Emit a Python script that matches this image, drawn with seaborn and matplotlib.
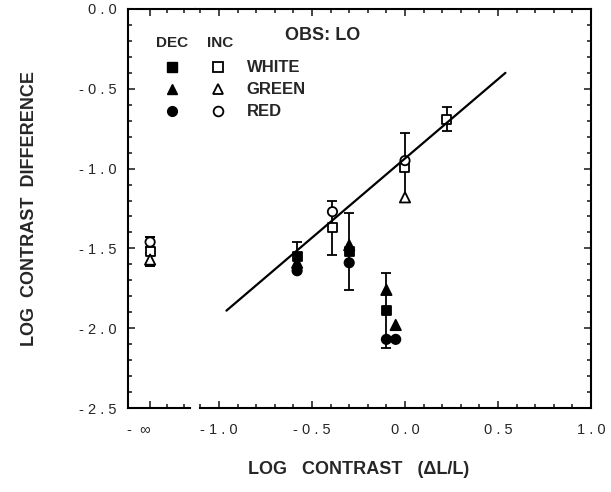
import matplotlib
matplotlib.use("Agg")
import pandas as pd
import matplotlib.pyplot as plt
import seaborn as sns
from matplotlib.lines import Line2D
from matplotlib.ticker import FixedLocator, MultipleLocator

# values
colors = ["WHITE", "GREEN", "RED"]

# contrast = -infinity (increments only)
inf_color = ["WHITE", "GREEN", "RED"]
inf_y = [-1.52, -1.57, -1.46]
inf_err = [0.09, 0.04, 0.03]

# decrements (filled symbols)
dec_color = ["WHITE", "GREEN", "RED", "WHITE", "GREEN", "RED",
             "WHITE", "GREEN", "RED", "GREEN", "RED"]
dec_x = [-0.58, -0.58, -0.58, -0.30, -0.30, -0.30,
         -0.10, -0.10, -0.10, -0.05, -0.05]
dec_y = [-1.55, -1.59, -1.64, -1.52, -1.48, -1.59,
         -1.89, -1.76, -2.07, -1.98, -2.07]
dec_err = [0.09, 0, 0, 0.24, 0, 0, 0.235, 0, 0, 0, 0]

# increments (open symbols)
inc_color = ["WHITE", "RED", "WHITE", "GREEN", "RED", "WHITE"]
inc_x = [-0.39, -0.39, 0.0, 0.0, 0.0, 0.225]
inc_y = [-1.37, -1.27, -0.99, -1.18, -0.95, -0.69]
inc_err = [0.17, 0, 0.21, 0, 0, 0.075]

# fitted line
fit_x = [-0.96, 0.54]
fit_y = [-1.89, -0.40]

x_ticks = [-1.0, -0.5, 0.0, 0.5, 1.0]
x_tick_labels = ["- 1 . 0", "- 0 . 5", "0 . 0", "0 . 5", "1 . 0"]
y_ticks = [0.0, -0.5, -1.0, -1.5, -2.0, -2.5]
y_tick_labels = ["0 . 0", "- 0 . 5", "- 1 . 0", "- 1 . 5", "- 2 . 0", "- 2 . 5"]

markers = {"WHITE": "s", "GREEN": "^", "RED": "o"}
sizes = {"WHITE": 42, "GREEN": 55, "RED": 45}

sns.set_style("ticks")
plt.rcParams["font.family"] = ["Liberation Sans", "DejaVu Sans"]

inf_df = pd.DataFrame({"x": ["-inf"] * len(inf_y), "y": inf_y, "err": inf_err, "color": inf_color})
dec_df = pd.DataFrame({"x": dec_x, "y": dec_y, "err": dec_err, "color": dec_color})
inc_df = pd.DataFrame({"x": inc_x, "y": inc_y, "err": inc_err, "color": inc_color})

fig = plt.figure(figsize=(6.11, 4.92), dpi=100)
ax_inf = fig.add_axes([128 / 611, 84 / 492, 67 / 611, 399 / 492])
ax = fig.add_axes([195 / 611, 84 / 492, 396 / 611, 399 / 492])


def draw_points(axis, df, filled):
    bars = df[df["err"] > 0]
    axis.errorbar(bars["x"], bars["y"], yerr=bars["err"], fmt="none",
                  ecolor="black", elinewidth=1.3, capsize=3.5, capthick=1.3, zorder=2)
    face = "black" if filled else "white"
    sns.scatterplot(data=df, x="x", y="y", style="color", markers=markers,
                    size="color", sizes=sizes, color=face, edgecolor="black",
                    linewidth=1.3, legend=False, ax=axis, zorder=3)


# -infinity panel
draw_points(ax_inf, inf_df, filled=False)
ax_inf.set_xlim(-0.33, 0.67)
ax_inf.set_ylim(-2.5, 0.0)
ax_inf.xaxis.set_major_locator(FixedLocator([0]))
ax_inf.set_xticklabels(["-  \u221e"], ha="right")
ax_inf.xaxis.set_minor_locator(FixedLocator([0.25, 0.5]))
ax_inf.yaxis.set_major_locator(FixedLocator(y_ticks))
ax_inf.set_yticklabels(y_tick_labels)
ax_inf.yaxis.set_minor_locator(MultipleLocator(0.1))
ax_inf.spines["right"].set_visible(False)
ax_inf.spines["bottom"].set_bounds(-0.33, 0.6)
ax_inf.tick_params(which="both", direction="in", top=True, bottom=True,
                   left=True, right=False, width=1.2, labelsize=10.5)
ax_inf.tick_params(axis="y", pad=8)
ax_inf.tick_params(axis="x", pad=11)

# main panel
draw_points(ax, dec_df, filled=True)
draw_points(ax, inc_df, filled=False)
sns.lineplot(x=fit_x, y=fit_y, color="black", linewidth=1.6, ax=ax, zorder=4)
ax.set_xlim(-1.129, 1.0)
ax.set_ylim(-2.5, 0.0)
ax.xaxis.set_major_locator(FixedLocator(x_ticks))
ax.set_xticklabels(x_tick_labels)
ax.xaxis.set_minor_locator(MultipleLocator(0.1))
ax.yaxis.set_major_locator(FixedLocator(y_ticks))
ax.yaxis.set_minor_locator(MultipleLocator(0.1))
ax.spines["left"].set_visible(False)
ax.spines["bottom"].set_bounds(-1.10, 1.0)
ax.tick_params(which="both", direction="in", top=True, bottom=True,
               left=False, right=True, labelleft=False, width=1.2, labelsize=10.5)
ax.tick_params(axis="x", pad=11)

for a in (ax, ax_inf):
    a.set_xlabel("")
    a.set_ylabel("")
    a.tick_params(which="major", length=5)
    a.tick_params(which="minor", length=3)
    for s in a.spines.values():
        s.set_linewidth(1.5)
        s.set_color("black")

# axis titles
fig.text(30 / 611, 1 - 209 / 492, "LOG  CONTRAST  DIFFERENCE", rotation=90,
         ha="center", va="center", fontsize=13, fontweight="bold")
fig.text(359 / 611, 1 - 469 / 492, "LOG   CONTRAST   (\u0394L/L)",
         ha="center", va="center", fontsize=13, fontweight="bold")
fig.text(285 / 611, 1 - 35 / 492, "OBS: LO", ha="left", va="center",
         fontsize=13, fontweight="bold")

# legend: filled = decrements, open = increments
handles = []
for c in colors:
    handles.append(Line2D([], [], linestyle="none", marker=markers[c], color="black",
                          markersize=7))
for c in colors:
    handles.append(Line2D([], [], linestyle="none", marker=markers[c], color="black",
                          markerfacecolor="white", markeredgewidth=1.3, markersize=7))
labels = [""] * 3 + colors
leg_font = {"family": ["Liberation Sans Narrow", "Liberation Sans"], "weight": "bold", "size": 12}
fig.legend(handles, labels, ncol=2, loc="center left",
           bbox_to_anchor=(165 / 611, 1 - 90 / 492), frameon=False,
           handlelength=0.8, handletextpad=1.34, columnspacing=0.61,
           labelspacing=0.42, borderpad=0, borderaxespad=0, prop=leg_font)
fig.text(172 / 611, 1 - 43 / 492, "DEC", ha="center", va="center",
         family=["Liberation Sans Narrow", "Liberation Sans"], fontweight="bold", fontsize=11)
fig.text(220 / 611, 1 - 43 / 492, "INC", ha="center", va="center",
         family=["Liberation Sans Narrow", "Liberation Sans"], fontweight="bold", fontsize=11)

fig.savefig("out.png", dpi=100)
